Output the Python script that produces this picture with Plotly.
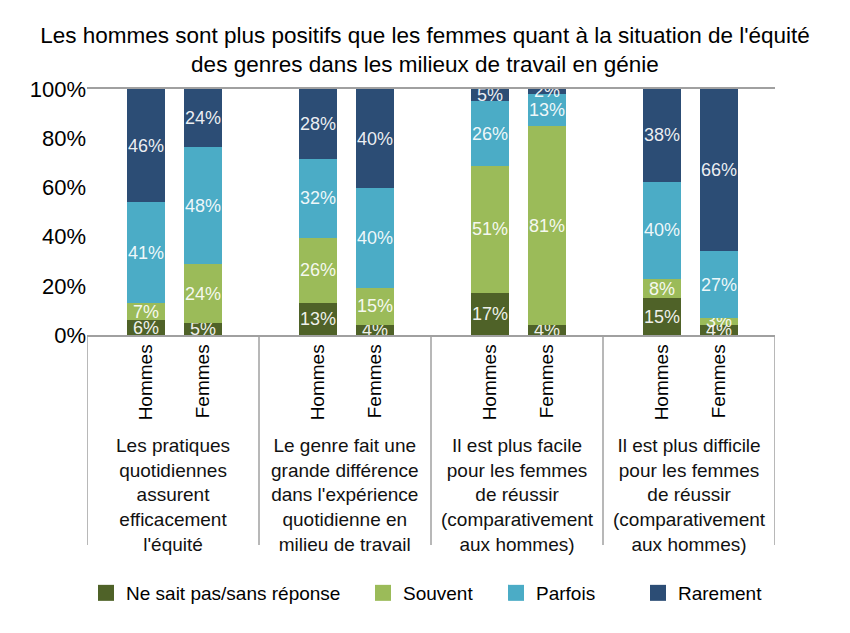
import plotly.graph_objects as go

# ---- data ----
groups = [
    "Les pratiques<br>quotidiennes<br>assurent<br>efficacement<br>l'équité",
    "Le genre fait une<br>grande différence<br>dans l'expérience<br>quotidienne en<br>milieu de travail",
    "Il est plus facile<br>pour les femmes<br>de réussir<br>(comparativement<br>aux hommes)",
    "Il est plus difficile<br>pour les femmes<br>de réussir<br>(comparativement<br>aux hommes)",
]
genders = ["Hommes", "Femmes"]
series_names = ["Ne sait pas/sans réponse", "Souvent", "Parfois", "Rarement"]
# order per bar: G1 H, G1 F, G2 H, G2 F, G3 H, G3 F, G4 H, G4 F
ne_sait_pas = [6, 5, 13, 4, 17, 4, 15, 4]
souvent = [7, 24, 26, 15, 51, 81, 8, 3]
parfois = [41, 48, 32, 40, 26, 13, 40, 27]
rarement = [46, 24, 28, 40, 5, 2, 38, 66]
series_values = [ne_sait_pas, souvent, parfois, rarement]
colors = ["#4f6228", "#9bbb59", "#4bacc6", "#2c4d75"]

# ---- layout geometry ----
W, H = 850, 633
ML, MR, MT, MB = 87, 75, 89, 298
offsets = [0.343, 0.674]
xpos = [g + o for g in range(len(groups)) for o in offsets]
xlabels = [gd for _ in groups for gd in genders]
FONT = "Liberation Sans, Arial, Helvetica, sans-serif"

fig = go.Figure()
for name, vals, col in zip(series_names, series_values, colors):
    fig.add_trace(go.Bar(
        x=xpos, y=vals, name=name, width=0.225,
        marker=dict(color=col, line=dict(width=0)),
        text=[f"{v}%" for v in vals], textposition="inside",
        insidetextanchor="middle", textangle=0,
        textfont=dict(color="rgba(255,255,255,0.92)", size=18, family=FONT),
        showlegend=False, hoverinfo="skip",
    ))

# legend entries (one legend each, to place them freely)
leg_centers = [108, 385, 518, 660]
for i, (name, col) in enumerate(zip(series_names, colors)):
    lname = "legend" if i == 0 else f"legend{i+1}"
    fig.add_trace(go.Scatter(
        x=[None], y=[None], mode="markers", name=name,
        marker=dict(symbol="square", size=19, color=col),
        legend=lname, showlegend=True,
    ))

legends = {}
for i, c in enumerate(leg_centers):
    lname = "legend" if i == 0 else f"legend{i+1}"
    legends[lname] = dict(
        x=(c - 22 - ML) / (W - ML - MR), xanchor="left",
        y=(H - MB - 593) / (H - MT - MB), yanchor="middle",
        orientation="h", bgcolor="rgba(0,0,0,0)",
        font=dict(size=19, color="#000", family=FONT),
        itemclick=False, itemdoubleclick=False,
    )

plot_h = H - MT - MB
shapes = []
for g in range(len(groups) + 1):
    shapes.append(dict(type="line", xref="x", yref="paper", x0=g, x1=g,
                       y0=0, y1=(0 - 210) / plot_h,
                       line=dict(color="#a0a0a0", width=1.5)))

annotations = []
for g, label in enumerate(groups):
    annotations.append(dict(
        x=g + 0.5, xref="x", y=(0 - 98) / plot_h, yref="paper",
        text=label, showarrow=False, xanchor="center", yanchor="top",
        font=dict(size=19, color="#111", family=FONT), align="center",
    ))

fig.update_layout(
    width=W, height=H,
    margin=dict(l=ML, r=MR, t=MT, b=MB),
    paper_bgcolor="white", plot_bgcolor="white",
    barmode="stack", barnorm="percent",
    uniformtext=dict(minsize=18, mode="show"),
    title=dict(
        text="Les hommes sont plus positifs que les femmes quant à la situation de l'équité<br>des genres dans les milieux de travail en génie",
        x=0.5, xref="container", xanchor="center",
        y=(H - 43) / H, yref="container", yanchor="top",
        font=dict(size=22.5, color="#000", family=FONT),
    ),
    xaxis=dict(
        range=[0, len(groups)], tickvals=xpos, ticktext=xlabels,
        tickangle=-90, ticks="", showgrid=False, zeroline=False,
        showline=True, mirror=True, linecolor="#a0a0a0", linewidth=1.5,
        tickfont=dict(size=19, color="#000", family=FONT),
    ),
    yaxis=dict(
        range=[0, 100], tickvals=[0, 20, 40, 60, 80, 100],
        ticktext=["0%", "20%", "40%", "60%", "80%", "100%"],
        showgrid=False, zeroline=False, showline=False, ticks="",
        tickfont=dict(size=22, color="#000", family=FONT),
    ),
    shapes=shapes,
    annotations=annotations,
    **legends,
)

fig.write_html("out.html")
